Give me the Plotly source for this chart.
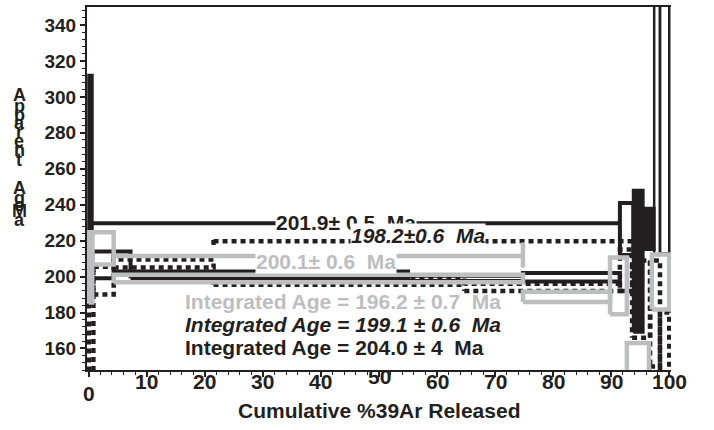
import plotly.graph_objects as go

# ---------------- data ----------------
# Black solid spectrum: step start / end (cumulative %39Ar) and age box low / high (Ma)
solid_x0 = [0.0, 0.6, 4.3, 7.2, 55.0, 74.8, 91.5, 93.8, 95.5, 97.4, 98.4]
solid_x1 = [0.6, 4.3, 7.2, 55.0, 74.8, 91.5, 93.8, 95.5, 97.4, 98.4, 100.0]
solid_lo = [196.0, 199.0, 202.8, 199.0, 197.5, 197.3, 212.0, 169.0, 215.0, 212.0, 213.0]
solid_hi = [312.0, 214.0, 214.0, 202.8, 200.5, 202.0, 241.0, 248.0, 238.0, 420.0, 420.0]

# Black dotted spectrum
dot_x0 = [0.0, 0.8, 4.3, 21.5, 64.7, 91.5, 93.6, 96.7, 98.4]
dot_x1 = [0.8, 4.3, 21.5, 64.7, 91.5, 93.6, 96.7, 98.4, 100.0]
dot_lo = [140.0, 190.0, 205.0, 195.5, 192.0, 192.0, 166.0, 150.0, 140.0]
dot_hi = [205.0, 205.5, 209.5, 199.0, 196.0, 215.0, 209.0, 209.0, 180.0]

# Grey spectrum
grey_x0 = [0.0, 0.6, 4.3, 74.8, 89.8, 92.7, 97.0]
grey_x1 = [0.6, 4.3, 74.8, 89.8, 92.7, 96.5, 100.0]
grey_lo = [185.5, 206.7, 196.8, 185.8, 179.0, 146.0, 181.6]
grey_hi = [224.6, 224.6, 201.0, 191.6, 210.6, 163.0, 212.3]

# Plateau bars: [start, end], drawn age level, label
solid_plateau_x = [0.0, 91.5]
solid_plateau_y = 229.6
solid_plateau_label = "201.9±\u00a00.5\u00a0\u00a0Ma"
dot_plateau_x = [21.5, 97.0]
dot_plateau_y = 219.6
dot_plateau_label = "198.2±0.6\u00a0\u00a0Ma"
grey_plateau_x = [4.3, 74.8]
grey_plateau_y = 211.5
grey_plateau_label = "200.1±\u00a00.6\u00a0\u00a0Ma"

integrated_labels = [
    "Integrated Age = 196.2 \u00b1 0.7\u00a0\u00a0Ma",
    "Integrated Age = 199.1 \u00b1 0.6\u00a0\u00a0Ma",
    "Integrated Age = 204.0 \u00b1 4\u00a0\u00a0Ma",
]

x_ticks = [0, 10, 20, 30, 40, 50, 60, 70, 80, 90, 100]
y_ticks = [160, 180, 200, 220, 240, 260, 280, 300, 320, 340]
x_title = "Cumulative %39Ar Released"
y_title_words = ["Apparent", "Age", "Ma"]

# ---------------- styling ----------------
BLACK = "#231F20"
GREY = "#BCBEC0"
FONT = "Liberation Sans, Arial, sans-serif"
Y_TOP = 350


def boxes(idx, x0, x1, lo, hi):
    xs, ys = [], []
    for i in idx:
        a, b, l, h = x0[i], x1[i], lo[i], hi[i]
        xs += [a, b, b, a, a, None]
        ys += [l, l, h, h, l, None]
    return xs, ys


fig = go.Figure()

# solid black: narrow steps filled, off-scale steps thin outlines, others thick outlines
n = len(solid_x0)
offscale = [i for i in range(n) if solid_hi[i] > Y_TOP]
narrow = [i for i in range(n) if i not in offscale and solid_x1[i] - solid_x0[i] < 2]
wide = [i for i in range(n) if i not in offscale and i not in narrow]

xs, ys = boxes(wide, solid_x0, solid_x1, solid_lo, solid_hi)
fig.add_trace(go.Scatter(x=xs, y=ys, mode="lines", line=dict(color=BLACK, width=4),
                         hoverinfo="skip", showlegend=False))
xs, ys = boxes(narrow, solid_x0, solid_x1, solid_lo, solid_hi)
fig.add_trace(go.Scatter(x=xs, y=ys, mode="lines", fill="toself", fillcolor=BLACK,
                         line=dict(color=BLACK, width=3), hoverinfo="skip", showlegend=False))
xs, ys = boxes(offscale, solid_x0, solid_x1, solid_lo, solid_hi)
fig.add_trace(go.Scatter(x=xs, y=ys, mode="lines", line=dict(color=BLACK, width=2.5),
                         hoverinfo="skip", showlegend=False))

# dotted black
xs, ys = boxes(range(len(dot_x0)), dot_x0, dot_x1, dot_lo, dot_hi)
fig.add_trace(go.Scatter(x=xs, y=ys, mode="lines",
                         line=dict(color=BLACK, width=4.5, dash="5px,4px"),
                         hoverinfo="skip", showlegend=False))

# grey
xs, ys = boxes(range(len(grey_x0)), grey_x0, grey_x1, grey_lo, grey_hi)
fig.add_trace(go.Scatter(x=xs, y=ys, mode="lines", line=dict(color=GREY, width=4.5),
                         hoverinfo="skip", showlegend=False))

# plateau bars
fig.add_trace(go.Scatter(x=solid_plateau_x, y=[solid_plateau_y] * 2, mode="lines",
                         line=dict(color=BLACK, width=4), hoverinfo="skip", showlegend=False))
fig.add_trace(go.Scatter(x=[dot_plateau_x[0], dot_plateau_x[0], None] + dot_plateau_x,
                         y=[dot_plateau_y - 2, dot_plateau_y + 2, None, dot_plateau_y, dot_plateau_y],
                         mode="lines", line=dict(color=BLACK, width=4.5, dash="5px,4px"),
                         hoverinfo="skip", showlegend=False))
fig.add_trace(go.Scatter(x=grey_plateau_x + [None, grey_plateau_x[1], grey_plateau_x[1]],
                         y=[grey_plateau_y] * 2 + [None, grey_plateau_y - 6.5, grey_plateau_y + 7.5],
                         mode="lines", line=dict(color=GREY, width=4.5),
                         hoverinfo="skip", showlegend=False))

TXT = 21
ann = []
ann.append(dict(x=44.3, y=solid_plateau_y + 0.5, text="<b>" + solid_plateau_label + "</b>",
                showarrow=False, font=dict(family=FONT, size=TXT, color=BLACK),
                bgcolor="white", borderpad=0, xref="x", yref="y"))
ann.append(dict(x=56.7, y=dot_plateau_y + 3.0, text="<b><i>" + dot_plateau_label + "</i></b>",
                showarrow=False, font=dict(family=FONT, size=TXT, color=BLACK),
                bgcolor="white", borderpad=0, xref="x", yref="y"))
ann.append(dict(x=40.9, y=grey_plateau_y - 3.0, text="<b>" + grey_plateau_label + "</b>",
                showarrow=False, font=dict(family=FONT, size=TXT, color=GREY),
                bgcolor="white", borderpad=0, xref="x", yref="y"))

int_colors = [GREY, BLACK, BLACK]
int_y = [186.2, 173.4, 160.6]
for lab, c, yy, it in zip(integrated_labels, int_colors, int_y, [False, True, False]):
    t = "<b><i>" + lab + "</i></b>" if it else "<b>" + lab + "</b>"
    ann.append(dict(x=16.3, y=yy, text=t, showarrow=False, xanchor="left",
                    font=dict(family=FONT, size=TXT, color=c), xref="x", yref="y"))

# x tick labels (as in the reference, '0' sits lower and '50' higher)
for v in x_ticks:
    dy = {0: -23, 50: -6}.get(v, -11)
    ann.append(dict(x=v, y=0, xref="x", yref="paper", yshift=dy, yanchor="middle",
                    text="<b>%d</b>" % v, showarrow=False,
                    font=dict(family=FONT, size=21, color=BLACK)))

# x title
ann.append(dict(x=0.5, y=0, xref="paper", yref="paper", yshift=-40, yanchor="middle",
                text="<b>" + x_title + "</b>", showarrow=False,
                font=dict(family=FONT, size=21, color=BLACK)))

# stacked y title letters (pixel rows of each letter centre)
letter_y = [93, 104, 113, 121, 130, 139, 148, 158,   # Apparent
            186, 196, 203,                          # Age
            209, 218]                               # Ma
letters = list("".join(y_title_words))
for ch, py in zip(letters, letter_y):
    ann.append(dict(x=0, y=1, xref="paper", yref="paper", xshift=19 - 87,
                    yshift=-(py - 5), text="<b>" + ch + "</b>", showarrow=False,
                    xanchor="center", yanchor="middle",
                    font=dict(family=FONT, size=18, color=BLACK)))

fig.update_layout(
    width=714, height=430,
    margin=dict(l=87, r=43, t=5, b=60),
    paper_bgcolor="white", plot_bgcolor="white",
    annotations=ann,
    xaxis=dict(range=[-0.3, 100.3], showgrid=False, zeroline=False,
               showline=True, linecolor=BLACK, linewidth=2, mirror=True,
               tickvals=x_ticks, showticklabels=False,
               ticks="outside", ticklen=5, tickwidth=1.5, tickcolor=BLACK,
               minor=dict(dtick=2, ticks="outside", ticklen=3, tickcolor=BLACK, tickwidth=1)),
    yaxis=dict(range=[148, Y_TOP], showgrid=False, zeroline=False,
               showline=True, linecolor=BLACK, linewidth=2, mirror=False,
               tickvals=y_ticks, ticktext=["<b>%d</b>" % v for v in y_ticks],
               tickfont=dict(family=FONT, size=19, color=BLACK),
               ticks="outside", ticklen=5, tickwidth=1.5, tickcolor=BLACK,
               minor=dict(dtick=4, ticks="outside", ticklen=3, tickcolor=BLACK, tickwidth=1)),
)

fig.write_html("out.html", config={"displayModeBar": False},
               post_script="document.body.style.margin='0';document.body.style.overflow='hidden';")
